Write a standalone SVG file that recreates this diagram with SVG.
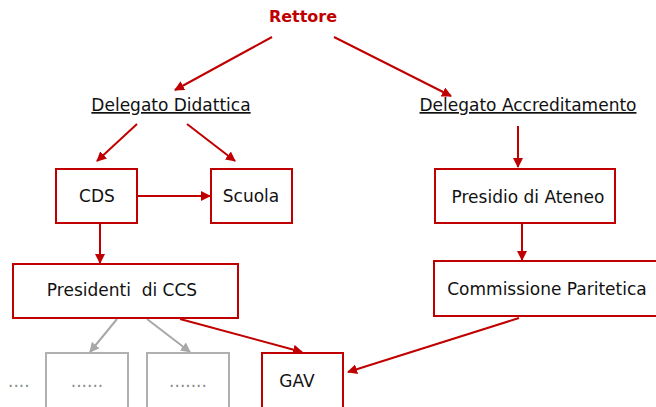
<svg xmlns="http://www.w3.org/2000/svg" width="656" height="407" viewBox="0 0 656 407">
<style>
text{font-family:"DejaVu Sans","Liberation Sans",sans-serif;font-size:17px;fill:#111;}
.t{text-anchor:middle;}
.rb{fill:#fff;stroke:#C00000;stroke-width:2;}
.gb{fill:#fff;stroke:#B0B0B0;stroke-width:2;}
.rl{stroke:#C00000;stroke-width:2;fill:none;marker-end:url(#ar);}
.gl{stroke:#A8A8A8;stroke-width:2;fill:none;marker-end:url(#ag);}
.dots{fill:#8a8a8a;}
</style>
<defs>
<marker id="ar" viewBox="0 0 10 10" refX="9" refY="5" markerWidth="5" markerHeight="5" orient="auto" markerUnits="strokeWidth"><path d="M0,0 L10,5 L0,10 z" fill="#C00000"/></marker>
<marker id="ag" viewBox="0 0 10 10" refX="9" refY="5" markerWidth="5" markerHeight="5" orient="auto" markerUnits="strokeWidth"><path d="M0,0 L10,5 L0,10 z" fill="#A8A8A8"/></marker>
</defs>
<rect width="656" height="407" fill="#fff"/>
<g id="connectors">
<line class="rl" x1="272" y1="37" x2="175" y2="90"/>
<line class="rl" x1="334" y1="37" x2="451" y2="96"/>
<line class="rl" x1="137" y1="124" x2="97" y2="161"/>
<line class="rl" x1="187" y1="124" x2="235" y2="161"/>
<line class="rl" x1="138" y1="196" x2="210" y2="196"/>
<line class="rl" x1="100" y1="223" x2="100" y2="263"/>
<line class="rl" x1="518" y1="126" x2="518" y2="167"/>
<line class="rl" x1="522" y1="223" x2="522" y2="260"/>
<line class="gl" x1="117" y1="319" x2="90" y2="352"/>
<line class="gl" x1="147" y1="319" x2="190" y2="352"/>
<line class="rl" x1="180" y1="319" x2="302" y2="352"/>
<line class="rl" x1="519" y1="318" x2="348" y2="372"/>
</g>
<g id="rettore"><text class="t" x="303" y="22" style="font-weight:bold;fill:#C00000;font-size:16px">Rettore</text></g>
<g id="delegato-didattica"><text class="t" x="171" y="111" text-decoration="underline">Delegato Didattica</text></g>
<g id="delegato-accreditamento"><text class="t" x="528" y="111" text-decoration="underline">Delegato Accreditamento</text></g>
<g id="cds"><rect class="rb" x="56" y="169" width="81" height="54"/><text class="t" x="97" y="202">CDS</text></g>
<g id="scuola"><rect class="rb" x="211" y="169" width="81" height="54"/><text class="t" x="251" y="202">Scuola</text></g>
<g id="presidenti"><rect class="rb" x="13" y="264" width="225" height="54"/><text class="t" x="122" y="296" xml:space="preserve">Presidenti  di CCS</text></g>
<g id="presidio"><rect class="rb" x="435" y="169" width="180" height="54"/><text class="t" x="528" y="203">Presidio di Ateneo</text></g>
<g id="commissione"><rect class="rb" x="434" y="261" width="224" height="55"/><text class="t" x="547" y="295">Commissione Paritetica</text></g>
<g id="dots-left"><text class="dots" x="8" y="387">....</text></g>
<g id="box1"><rect class="gb" x="46" y="353" width="82" height="60"/><text class="t dots" x="87" y="387">......</text></g>
<g id="box2"><rect class="gb" x="147" y="353" width="82" height="60"/><text class="t dots" x="188" y="387">.......</text></g>
<g id="gav"><rect class="rb" x="262" y="353" width="81" height="60"/><text class="t" x="297" y="387">GAV</text></g>
</svg>
